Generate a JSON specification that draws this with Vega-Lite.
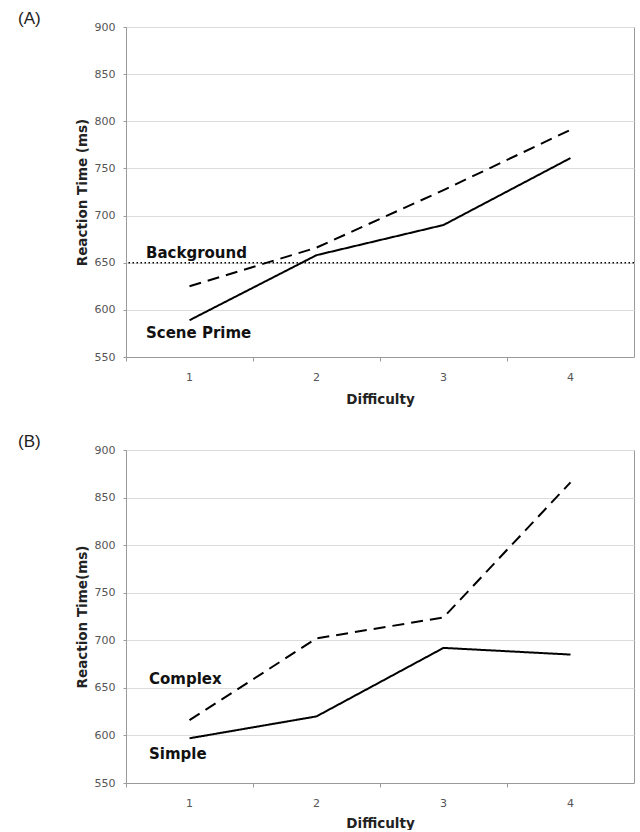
{
  "$schema": "https://vega.github.io/schema/vega-lite/v6.json",
  "background": "white",
  "padding": {"left": 17, "top": 9, "right": 4, "bottom": 0},
  "spacing": 26,
  "config": {
    "font": "DejaVu Sans",
    "view": {"stroke": "#9a9a9a", "strokeWidth": 1},
    "axis": {
      "labelFont": "DejaVu Sans", "labelFontSize": 11, "labelColor": "#555555",
      "titleFont": "DejaVu Sans", "titleFontWeight": "bold", "titleFontSize": 13.5, "titleColor": "#222222",
      "domainColor": "#9a9a9a", "tickColor": "#9a9a9a", "gridColor": "#dcdcdc"
    },
    "title": {"font": "Liberation Sans", "fontSize": 17, "fontWeight": "normal", "anchor": "start", "color": "#222222"}
  },
  "resolve": {"scale": {"strokeDash": "independent"}},
  "vconcat": [
    {
      "width": 508,
      "height": 330,
      "title": {"text": "(A)", "dx": -57, "offset": -7},
      "layer": [
        {
          "data": {"values": [
            {"difficulty": "1", "condition": "Scene Prime", "rt": 589},
            {"difficulty": "2", "condition": "Scene Prime", "rt": 658},
            {"difficulty": "3", "condition": "Scene Prime", "rt": 690},
            {"difficulty": "4", "condition": "Scene Prime", "rt": 761},
            {"difficulty": "1", "condition": "Background", "rt": 625},
            {"difficulty": "2", "condition": "Background", "rt": 666},
            {"difficulty": "3", "condition": "Background", "rt": 727},
            {"difficulty": "4", "condition": "Background", "rt": 791}
          ]},
          "mark": {"type": "line", "color": "black", "strokeWidth": 2},
          "encoding": {
            "x": {"field": "difficulty", "type": "ordinal", "scale": {"type": "band", "paddingInner": 0, "paddingOuter": 0},
                  "axis": {"title": "Difficulty", "labelAngle": 0, "bandPosition": 0, "tickSize": 4, "labelPadding": 10, "titlePadding": 10, "grid": false}},
            "y": {"field": "rt", "type": "quantitative", "scale": {"domain": [550, 900], "nice": false, "zero": false},
                  "axis": {"title": "Reaction Time (ms)", "values": [550, 600, 650, 700, 750, 800, 850, 900], "tickSize": 3, "labelPadding": 8, "titlePadding": 5, "grid": true}},
            "strokeDash": {"field": "condition", "type": "nominal", "scale": {"domain": ["Scene Prime", "Background"], "range": [[1, 0], [12, 7]]}, "legend": null}
          }
        },
        {
          "data": {"values": [{"rt": 650}]},
          "mark": {"type": "rule", "color": "black", "strokeWidth": 1.5, "strokeDash": [1.5, 2.5]},
          "encoding": {"y": {"field": "rt", "type": "quantitative"}}
        },
        {
          "data": {"values": [
            {"difficulty": "1", "rt": 660, "label": "Background"},
            {"difficulty": "1", "rt": 575, "label": "Scene Prime"}
          ]},
          "mark": {"type": "text", "align": "left", "baseline": "middle", "dx": -43.5, "fontSize": 15, "fontWeight": "bold", "font": "DejaVu Sans", "color": "#111111"},
          "encoding": {
            "x": {"field": "difficulty", "type": "ordinal"},
            "y": {"field": "rt", "type": "quantitative"},
            "text": {"field": "label"}
          }
        }
      ]
    },
    {
      "width": 508,
      "height": 333,
      "title": {"text": "(B)", "dx": -57, "offset": -7},
      "layer": [
        {
          "data": {"values": [
            {"difficulty": "1", "condition": "Simple", "rt": 597},
            {"difficulty": "2", "condition": "Simple", "rt": 620},
            {"difficulty": "3", "condition": "Simple", "rt": 692},
            {"difficulty": "4", "condition": "Simple", "rt": 685},
            {"difficulty": "1", "condition": "Complex", "rt": 616},
            {"difficulty": "2", "condition": "Complex", "rt": 702},
            {"difficulty": "3", "condition": "Complex", "rt": 724},
            {"difficulty": "4", "condition": "Complex", "rt": 866}
          ]},
          "mark": {"type": "line", "color": "black", "strokeWidth": 2},
          "encoding": {
            "x": {"field": "difficulty", "type": "ordinal", "scale": {"type": "band", "paddingInner": 0, "paddingOuter": 0},
                  "axis": {"title": "Difficulty", "labelAngle": 0, "bandPosition": 0, "tickSize": 4, "labelPadding": 10, "titlePadding": 8, "grid": false}},
            "y": {"field": "rt", "type": "quantitative", "scale": {"domain": [550, 900], "nice": false, "zero": false},
                  "axis": {"title": "Reaction Time(ms)", "values": [550, 600, 650, 700, 750, 800, 850, 900], "tickSize": 3, "labelPadding": 8, "titlePadding": 5, "grid": true}},
            "strokeDash": {"field": "condition", "type": "nominal", "scale": {"domain": ["Simple", "Complex"], "range": [[1, 0], [12, 7]]}, "legend": null}
          }
        },
        {
          "data": {"values": [
            {"difficulty": "1", "rt": 659, "label": "Complex"},
            {"difficulty": "1", "rt": 581, "label": "Simple"}
          ]},
          "mark": {"type": "text", "align": "left", "baseline": "middle", "dx": -40.5, "fontSize": 15, "fontWeight": "bold", "font": "DejaVu Sans", "color": "#111111"},
          "encoding": {
            "x": {"field": "difficulty", "type": "ordinal"},
            "y": {"field": "rt", "type": "quantitative"},
            "text": {"field": "label"}
          }
        }
      ]
    }
  ]
}
